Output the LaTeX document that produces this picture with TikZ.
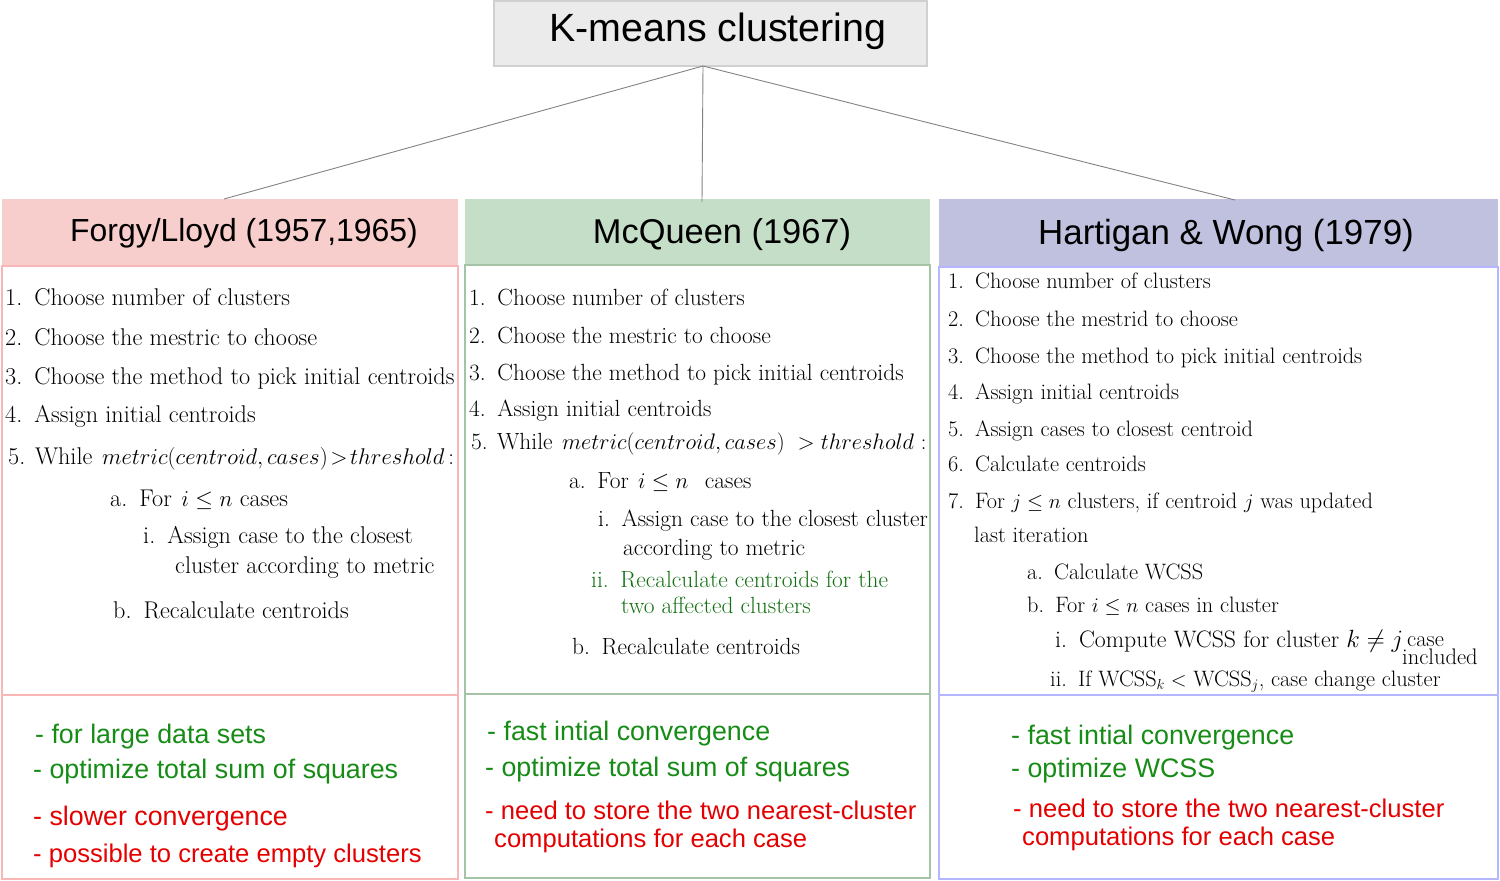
\RequirePackage{fix-cm}
\documentclass[tikz,border=0pt]{standalone}
\usepackage{fontspec}
\setsansfont{Liberation Sans}
\usetikzlibrary{calc}
\definecolor{topfill}{RGB}{235,235,235}
\definecolor{topline}{RGB}{208,208,208}
\definecolor{lfill}{RGB}{248,206,204}
\definecolor{lline}{RGB}{250,182,182}
\definecolor{mfill}{RGB}{197,222,199}
\definecolor{mline}{RGB}{165,195,165}
\definecolor{rfill}{RGB}{192,192,223}
\definecolor{rline}{RGB}{182,182,255}
\definecolor{linkgray}{RGB}{130,130,130}
\definecolor{prosgreen}{RGB}{22,140,22}
\definecolor{consred}{RGB}{228,0,0}
\definecolor{stepgreen}{RGB}{18,112,18}
% math set at its own size inside a line of text
\newcommand{\mathat}[2]{{\fontsize{#1}{#1}\selectfont$#2$}}
\begin{document}
\begin{tikzpicture}[x=1pt,y=-1pt,
  box/.style={anchor=north west,inner sep=0pt,outer sep=0pt,line width=1.3pt},
  headtitle/.style={inner sep=0pt,font=\sffamily\fontsize{#1}{#1}\selectfont},
  tl/.style={anchor=base west,inner sep=0pt,font=\fontsize{24.2}{29}\selectfont},
  tm/.style={anchor=base west,inner sep=0pt,font=\fontsize{23.4}{28}\selectfont},
  tr/.style={anchor=base west,inner sep=0pt,font=\fontsize{22.3}{27}\selectfont},
  note/.style={anchor=base west,inner sep=0pt,font=\sffamily\fontsize{#1}{30}\selectfont},
  pro/.style={note=26.8,text=prosgreen},
  con/.style={note=#1,text=consred},
  con/.default=26.8,
  link/.style={draw=linkgray,line width=0.9pt}]
\useasboundingbox (0,0) rectangle (1500,881);

% title
\node[box,draw=topline,fill=topfill,minimum width=433pt,minimum height=65pt] (top) at (494,1) {};
\node[headtitle=39.4] (toptxt) at (718,31) {K-means clustering};

% column headers
\node[box,fill=lfill,minimum width=456pt,minimum height=67pt] (hL) at (2,199) {};
\node[box,fill=mfill,minimum width=465pt,minimum height=66pt] (hM) at (465,199) {};
\node[box,fill=rfill,minimum width=559pt,minimum height=68pt] (hR) at (939,199) {};
\node[headtitle=31.9] (tL) at (244,233) {Forgy/Lloyd (1957,1965)};
\node[headtitle=34.4] (tM) at (722,235) {McQueen (1967)};
\node[headtitle=34.9] (tR) at (1226,235) {Hartigan \& Wong (1979)};

% step boxes
\node[box,draw=lline,minimum width=456pt,minimum height=429pt] (bL) at (2,266) {};
\node[box,draw=mline,minimum width=465pt,minimum height=429pt] (bM) at (465,265) {};
\node[box,draw=rline,minimum width=559pt,minimum height=428pt] (bR) at (939,267) {};

% pros and cons boxes
\node[box,draw=lline,minimum width=456pt,minimum height=184pt] (pL) at (2,695) {};
\node[box,draw=mline,minimum width=465pt,minimum height=184pt] (pM) at (465,694) {};
\node[box,draw=rline,minimum width=559pt,minimum height=184pt] (pR) at (939,695) {};

% links from the title
\coordinate (hub) at ([xshift=-7.5pt]top.south);
\coordinate (aL) at ([xshift=222pt]hL.north west);
\coordinate (aM) at ([xshift=237pt,yshift=-3pt]hM.north west);
\coordinate (aR) at ([xshift=296pt,yshift=-1pt]hR.north west);
\draw[link] (hub) -- (aL);
\draw[link] (hub) -- (aM);
\draw[link] (hub) -- (aR);

% Forgy / Lloyd steps
\node[tl] (l1) at (5,305) {1.\hspace{0.5em}Choose number of clusters};
\node[tl] (l2) at (5,345) {2.\hspace{0.5em}Choose the mestric to choose};
\node[tl] (l3) at (5,384) {3.\hspace{0.5em}Choose the method to pick initial centroids};
\node[tl] (l4) at (5,422) {4.\hspace{0.5em}Assign initial centroids};
\node[tl] (l5) at (8,464) {5.\hspace{0.4em}While\hspace{0.4em}\mathat{22.7}{metric(centroid, cases)\!>\!threshold\,{:}}};
\node[tl] (l5a) at (110,506) {a.\hspace{0.5em}For\hspace{0.4em}\mathat{22.7}{i \le n}\hspace{0.3em}cases};
\node[tl] (l5ai) at (143,543) {i.\hspace{0.5em}Assign case to the closest};
\node[tl] (l5ai2) at (175,573) {cluster according to metric};
\node[tl] (l5b) at (113,618) {b.\hspace{0.5em}Recalculate centroids};

% McQueen steps
\node[tm] (m1) at (469,305) {1.\hspace{0.5em}Choose number of clusters};
\node[tm] (m2) at (469,343) {2.\hspace{0.5em}Choose the mestric to choose};
\node[tm] (m3) at (469,380) {3.\hspace{0.5em}Choose the method to pick initial centroids};
\node[tm] (m4) at (469,416) {4.\hspace{0.5em}Assign initial centroids};
\node[tm] (m5) at (471,449) {5.\hspace{0.4em}While\hspace{0.4em}\mathat{22.4}{metric(centroid, cases)\ > threshold\ {:}}};
\node[tm] (m5a) at (569,488) {a.\hspace{0.5em}For\hspace{0.4em}\mathat{22.4}{i \le n}\hspace{0.7em}cases};
\node[tm] (m5ai) at (598,526) {i.\hspace{0.5em}Assign case to the closest cluster};
\node[tm] (m5ai2) at (623,555) {according to metric};
\node[tm,text=stepgreen] (m5aii) at (591,587) {ii.\hspace{0.5em}Recalculate centroids for the};
\node[tm,text=stepgreen] (m5aii2) at (621,613) {two affected clusters};
\node[tm] (m5b) at (572,654) {b.\hspace{0.5em}Recalculate centroids};

% Hartigan & Wong steps
\node[tr] (r1) at (948,288) {1.\hspace{0.5em}Choose number of clusters};
\node[tr] (r2) at (948,326) {2.\hspace{0.5em}Choose the mestrid to choose};
\node[tr] (r3) at (948,363) {3.\hspace{0.5em}Choose the method to pick initial centroids};
\node[tr] (r4) at (948,399) {4.\hspace{0.5em}Assign initial centroids};
\node[tr] (r5) at (948,436) {5.\hspace{0.5em}Assign cases to closest centroid};
\node[tr] (r6) at (948,471) {6.\hspace{0.5em}Calculate centroids};
\node[tr] (r7) at (948,508) {7.\hspace{0.5em}For \mathat{20.7}{j \le n} clusters, if centroid \mathat{20.7}{j} was updated};
\node[tr] (r7b) at (974,542) {last iteration};
\node[tr] (r7a) at (1027,579) {a.\hspace{0.5em}Calculate WCSS};
\node[tr] (r7bb) at (1027,612) {b.\hspace{0.5em}For \mathat{20.7}{i \le n} cases in cluster};
\node[tr,font=\fontsize{23.8}{28}\selectfont] (r7bi) at (1055,647) {i.\hspace{0.5em}Compute WCSS for cluster \mathat{24.9}{k \neq j}};
\node[tr,font=\fontsize{22.5}{24}\selectfont] (r7case) at (1407,646) {case};
\node[tr,font=\fontsize{22.5}{24}\selectfont] (r7incl) at (1402,664) {included};
\node[tr] (r7bii) at (1050,686) {ii.\hspace{0.5em}If WCSS\mathat{20.7}{_k <} WCSS\mathat{20.7}{_j}, case change cluster};

% pros and cons
\node[pro] (pl1) at (35,743) {- for large data sets};
\node[pro] (pl2) at (33,778) {- optimize total sum of squares};
\node[con] (pl3) at (33,825) {- slower convergence};
\node[con=25.6] (pl4) at (33,862) {- possible to create empty clusters};

\node[pro] (pm1) at (487,740) {- fast intial convergence};
\node[pro] (pm2) at (485,776) {- optimize total sum of squares};
\node[con=25.6] (pm3) at (485,819) {- need to store the two nearest-cluster};
\node[con=25.6] (pm4) at (494,847) {computations for each case};

\node[pro] (pr1) at (1011,744) {- fast intial convergence};
\node[pro] (pr2) at (1011,777) {- optimize WCSS};
\node[con=25.6] (pr3) at (1013,817) {- need to store the two nearest-cluster};
\node[con=25.6] (pr4) at (1022,845) {computations for each case};
\end{tikzpicture}
\end{document}
